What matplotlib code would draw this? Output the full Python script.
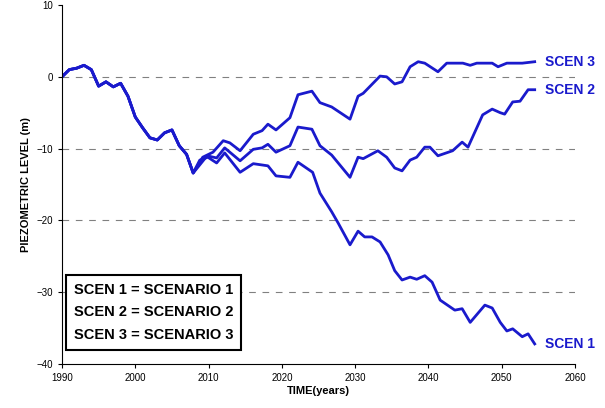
import matplotlib
matplotlib.use('Agg')
from matplotlib import pyplot as plt

plt.rcParams['font.family'] = ['Liberation Sans', 'DejaVu Sans']

# common part of all scenarios
yr_c = [1990, 1991, 1992, 1993, 1994, 1995, 1996, 1997, 1998, 1999, 2000, 2001,
        2002, 2003, 2004, 2005, 2006, 2007, 2007.9]
lv_c = [0, 1.0, 1.2, 1.6, 1.0, -1.3, -0.7, -1.4, -0.9, -2.7, -5.6, -7.1,
        -8.5, -8.8, -7.8, -7.4, -9.6, -10.8, -13.4]

yr_3 = [2009.2, 2010.6, 2012.0, 2012.9, 2014.3, 2016.1, 2017.3, 2018.1, 2019.2, 2021.1,
        2022.2, 2024.1, 2025.2, 2026.8, 2029.3, 2030.4, 2031.1, 2033.4, 2034.3, 2035.4,
        2036.4, 2037.5, 2038.6, 2039.5, 2041.3, 2042.5, 2044.7, 2045.7, 2046.6, 2048.7,
        2049.5, 2050.7, 2052.8, 2054.5]
lv_3 = [-11.2, -10.5, -8.9, -9.2, -10.3, -8.0, -7.5, -6.6, -7.4, -5.7,
        -2.5, -2.0, -3.6, -4.2, -5.9, -2.7, -2.3, 0.1, 0.0, -1.0,
        -0.7, 1.4, 2.1, 1.9, 0.7, 1.9, 1.9, 1.6, 1.9, 1.9,
        1.4, 1.9, 1.9, 2.1]

yr_2 = [2009.8, 2011.1, 2012.2, 2014.3, 2016.1, 2017.3, 2018.1, 2019.2, 2021.1, 2022.2,
        2024.1, 2025.2, 2026.8, 2029.3, 2030.4, 2031.1, 2033.1, 2034.3, 2035.4, 2036.4,
        2037.5, 2038.4, 2039.5, 2040.2, 2041.3, 2043.3, 2044.6, 2045.4, 2047.4, 2048.7,
        2049.8, 2050.4, 2051.5, 2052.5, 2053.6, 2054.5]
lv_2 = [-11.0, -11.3, -9.9, -11.7, -10.1, -9.9, -9.4, -10.5, -9.6, -7.0,
        -7.3, -9.6, -10.9, -14.0, -11.2, -11.4, -10.3, -11.2, -12.7, -13.1,
        -11.6, -11.2, -9.8, -9.8, -11.0, -10.3, -9.1, -9.8, -5.3, -4.5,
        -5.0, -5.2, -3.5, -3.4, -1.8, -1.8]

yr_1 = [2008.8, 2009.9, 2011.1, 2012.2, 2014.3, 2016.1, 2018.1, 2019.2, 2021.1, 2022.2,
        2024.2, 2025.2, 2026.8, 2027.7, 2029.3, 2030.4, 2031.3, 2032.3, 2033.4, 2034.5,
        2035.4, 2036.4, 2037.5, 2038.4, 2039.5, 2040.5, 2041.6, 2043.6, 2044.6, 2045.7,
        2047.7, 2048.7, 2049.8, 2050.7, 2051.5, 2052.8, 2053.6, 2054.5]
lv_1 = [-11.6, -11.2, -12.0, -10.6, -13.3, -12.1, -12.4, -13.8, -14.0, -11.9,
        -13.3, -16.2, -18.8, -20.4, -23.4, -21.5, -22.3, -22.3, -23.0, -24.8,
        -27.0, -28.3, -27.9, -28.2, -27.7, -28.6, -31.1, -32.5, -32.3, -34.2,
        -31.8, -32.2, -34.2, -35.4, -35.1, -36.2, -35.8, -37.2]

names = ['SCEN 1', 'SCEN 2', 'SCEN 3']
col = '#1a1acc'

fig = plt.figure(figsize=(6.05, 4.08), dpi=100)
ax = fig.add_axes([62/605, 44/408, 513/605, 359/408])

for yr, lv, nm in [(yr_1, lv_1, names[0]), (yr_2, lv_2, names[1]), (yr_3, lv_3, names[2])]:
    ax.plot(yr_c + yr, lv_c + lv, color=col, lw=2)
    ax.text(yr[-1] + 1.4, lv[-1], nm, color=col, fontsize=10, fontweight='bold', va='center')

for g in [0, -10, -20, -30]:
    ax.axhline(g, color='gray', lw=0.8, ls=(0, (6, 6)), zorder=0)

ax.set_xlim(1990, 2060)
ax.set_ylim(-40, 10)
ax.set_xticks(range(1990, 2061, 10))
ax.set_yticks(range(-40, 11, 10))
ax.tick_params(labelsize=7, length=3)
ax.spines['top'].set_visible(False)
ax.spines['right'].set_visible(False)
ax.set_xlabel('TIME(years)', fontsize=8, fontweight='bold', labelpad=2)
ax.set_ylabel('PIEZOMETRIC LEVEL (m)', fontsize=8, fontweight='bold')

leg = '\n'.join(['SCEN 1 = SCENARIO 1', 'SCEN 2 = SCENARIO 2', 'SCEN 3 = SCENARIO 3'])
ax.text(1991.6, -36.9, leg, fontsize=10.5, fontweight='bold', linespacing=1.75, va='bottom',
        bbox=dict(boxstyle='square,pad=0.55', fc='white', ec='black', lw=1.5))

fig.savefig('out.png', dpi=100)
